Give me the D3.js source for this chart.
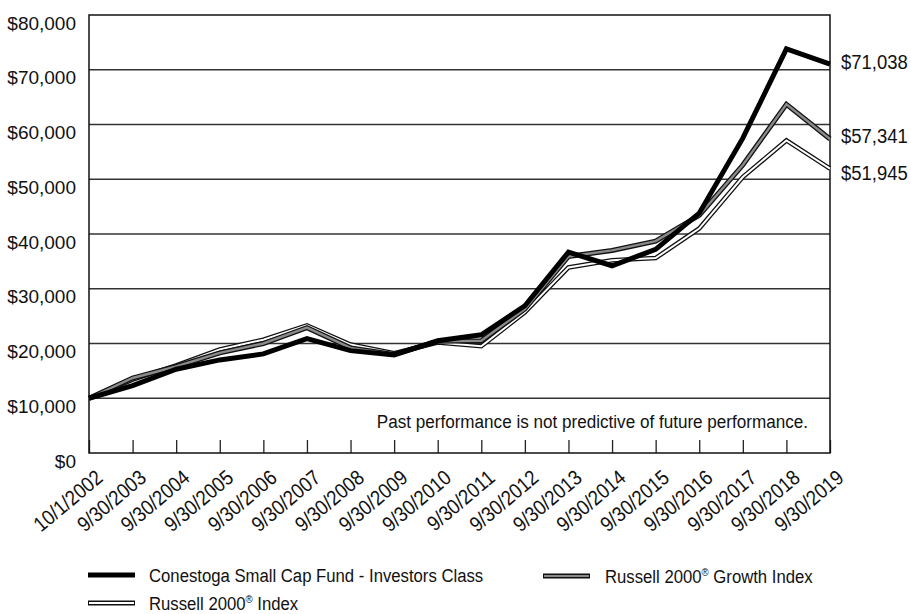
<!DOCTYPE html>
<html><head><meta charset="utf-8">
<script src="https://cdn.jsdelivr.net/npm/d3@7/dist/d3.min.js"></script>
<style>
body{margin:0;background:#fff;}
svg{display:block;}
</style></head>
<body><svg id="chart" width="911" height="614"></svg>
<script>
const dates = ["10/1/2002","9/30/2003","9/30/2004","9/30/2005","9/30/2006","9/30/2007","9/30/2008","9/30/2009","9/30/2010","9/30/2011","9/30/2012","9/30/2013","9/30/2014","9/30/2015","9/30/2016","9/30/2017","9/30/2018","9/30/2019"];
const conestoga = [10000,12300,15300,17000,18100,20900,18700,17900,20500,21600,26900,36700,34200,37200,43800,57500,73800,71038];
const growth    = [10000,13700,15800,18300,20000,22900,19200,18000,20400,20500,26300,35900,37000,38700,43400,52600,63700,57341];
const russell   = [10000,13400,16000,18900,20700,23300,19800,18200,20200,19500,25700,33900,35200,35600,41000,50400,57100,51945];
const yTicks = [0,10000,20000,30000,40000,50000,60000,70000,80000];
const seriesNames = ["Conestoga Small Cap Fund - Investors Class","Russell 2000\u00AE Growth Index","Russell 2000\u00AE Index"];
const note = "Past performance is not predictive of future performance.";

const svg = d3.select("#chart");
const L = 89, R = 830, T = 15, B = 453;
const x = d3.scalePoint().domain(dates).range([L, R]);
const y = d3.scaleLinear().domain([0, 80000]).range([B, T]);
const fmt = v => "$" + d3.format(",")(v);
const font = "'Liberation Sans',Arial,Helvetica,sans-serif";
const SX = 0.88; // condensed look

// gridlines
svg.append("g").selectAll("line").data(yTicks.filter(v => v > 0 && v < 80000)).join("line")
  .attr("x1", L).attr("x2", R).attr("y1", d => y(d)).attr("y2", d => y(d))
  .attr("stroke", "#333").attr("stroke-width", 1.4);

// y axis labels (top of text sits on the gridline)
const yAxis = d3.axisLeft(y).tickValues(yTicks).tickFormat(fmt).tickSize(0).tickPadding(13);
const gy = svg.append("g").attr("transform", `translate(${L},0)`).call(yAxis);
gy.select(".domain").remove();
gy.selectAll("text").attr("font-family", font).attr("font-size", 19).attr("fill", "#111")
  .attr("y", 14).attr("dy", null);

// x axis ticks inside
const xAxis = d3.axisTop(x).tickSize(13).tickFormat("");
const gx = svg.append("g").attr("transform", `translate(0,${B})`).call(xAxis);
gx.select(".domain").remove();
gx.selectAll("line").attr("stroke", "#222").attr("stroke-width", 1.3);

// x labels rotated
svg.append("g").selectAll("text").data(dates).join("text")
  .attr("transform", d => `translate(${x(d) + 15},${B + 27}) rotate(-40) scale(${SX},1)`)
  .attr("text-anchor", "end")
  .attr("font-family", font).attr("font-size", 21).attr("fill", "#111")
  .text(d => d);

// frame
svg.append("rect").attr("x", L).attr("y", T).attr("width", R - L).attr("height", B - T)
  .attr("fill", "none").attr("stroke", "#111").attr("stroke-width", 1.5);

// note
svg.append("text").attr("transform", `translate(808,428) scale(0.9,1)`).attr("text-anchor", "end")
  .attr("font-family", font).attr("font-size", 19).attr("fill", "#111").text(note);

// lines
const line = d3.line().x((d, i) => x(dates[i])).y(d => y(d));
const g = svg.append("g");
g.append("path").attr("d", line(russell)).attr("fill", "none").attr("stroke", "#111").attr("stroke-width", 4.6).attr("stroke-linejoin", "miter");
g.append("path").attr("d", line(russell)).attr("fill", "none").attr("stroke", "#fff").attr("stroke-width", 2).attr("stroke-linejoin", "miter");
g.append("path").attr("d", line(growth)).attr("fill", "none").attr("stroke", "#111").attr("stroke-width", 5).attr("stroke-linejoin", "miter");
g.append("path").attr("d", line(growth)).attr("fill", "none").attr("stroke", "#8a8a8a").attr("stroke-width", 2.4).attr("stroke-linejoin", "miter");
g.append("path").attr("d", line(conestoga)).attr("fill", "none").attr("stroke", "#000").attr("stroke-width", 5).attr("stroke-linejoin", "miter");

// end value labels
const ends = [conestoga[conestoga.length-1], growth[growth.length-1], russell[russell.length-1]];
const endOff = [-3, -4, 4];
svg.append("g").selectAll("text").data(ends).join("text")
  .attr("transform", (d, i) => `translate(${R + 11},${y(d) + endOff[i]}) scale(${SX},1)`)
  .attr("dy", "0.36em")
  .attr("font-family", font).attr("font-size", 21).attr("fill", "#111")
  .text(d => fmt(d));

// legend
const leg = svg.append("g");
function swatch(x0, yy, kind) {
  const x1 = x0 + 47;
  if (kind === 0) {
    leg.append("line").attr("x1", x0).attr("x2", x1).attr("y1", yy).attr("y2", yy).attr("stroke", "#000").attr("stroke-width", 5);
  } else {
    leg.append("line").attr("x1", x0).attr("x2", x1).attr("y1", yy).attr("y2", yy).attr("stroke", "#111").attr("stroke-width", 5);
    leg.append("line").attr("x1", x0 + 1).attr("x2", x1 - 1).attr("y1", yy).attr("y2", yy).attr("stroke", kind === 1 ? "#8a8a8a" : "#fff").attr("stroke-width", 2.2);
  }
}
const legPos = [[88, 575, 149], [543, 576, 605], [88, 603, 149]];
seriesNames.forEach((n, i) => {
  const [sx, sy, tx] = legPos[i];
  swatch(sx, sy, i);
  const t = leg.append("text").attr("transform", `translate(${tx},${sy + 7}) scale(${SX},1)`)
    .attr("font-family", font).attr("font-size", 19).attr("fill", "#111");
  const parts = n.split("\u00AE");
  if (parts.length > 1) {
    t.append("tspan").text(parts[0]);
    t.append("tspan").attr("font-size", 11).attr("dy", -7).text("\u00AE");
    t.append("tspan").attr("dy", 7).text(parts[1]);
  } else t.text(n);
});
</script></body></html>
